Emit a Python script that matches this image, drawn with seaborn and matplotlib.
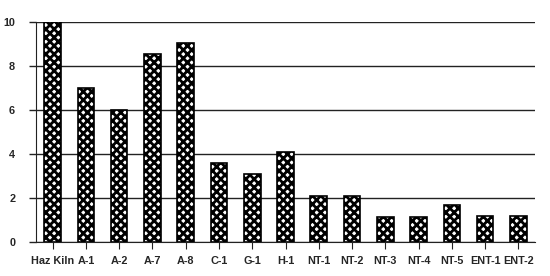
import matplotlib
matplotlib.use("Agg")
import matplotlib.pyplot as plt
import seaborn as sns
import pandas as pd

categories = ["Haz Kiln", "A-1", "A-2", "A-7", "A-8", "C-1", "G-1", "H-1",
              "NT-1", "NT-2", "NT-3", "NT-4", "NT-5", "ENT-1", "ENT-2"]
values = [10.0, 7.0, 6.0, 8.55, 9.05, 3.6, 3.1, 4.1,
          2.1, 2.1, 1.15, 1.15, 1.7, 1.2, 1.2]
yticks = [0, 2, 4, 6, 8, 10]

sns.set_style("white")
plt.rcParams['font.family'] = ['Liberation Sans', 'DejaVu Sans']
plt.rcParams['hatch.linewidth'] = 2.0
plt.rcParams['hatch.color'] = 'black'

df = pd.DataFrame({"cat": categories, "val": values})
fig = plt.figure(figsize=(5.5, 2.76), dpi=100)
ax = fig.add_axes([36/550, 1 - 242/276, 499/550, 220/276])
sns.barplot(data=df, x="cat", y="val", ax=ax, color="white", width=0.5,
            edgecolor="black", linewidth=1.2, saturation=1, zorder=3)
for p in ax.patches:
    p.set_hatch("xxxx")
ax.set_ylim(0, 10)
ax.set_xlim(-0.5, len(categories) - 0.5)
ax.set_yticks(yticks)
ax.yaxis.grid(True, color="#222222", linewidth=1.0, zorder=0)
ax.set_axisbelow(True)
for s in ["top", "right"]:
    ax.spines[s].set_visible(False)
ax.spines["left"].set_color("#222222")
ax.spines["bottom"].set_color("#222222")
ax.tick_params(axis="y", length=5, width=1, color="#222222", direction="out",
               labelsize=7.8, pad=10, left=True)
ax.tick_params(axis="x", length=5, width=0.8, color="#222222", direction="out",
               labelsize=7.8, pad=5, bottom=True)
for lab in ax.get_xticklabels() + ax.get_yticklabels():
    lab.set_fontweight("bold")
ax.set_xlabel("")
ax.set_ylabel("")
fig.savefig("out.png", dpi=100)
